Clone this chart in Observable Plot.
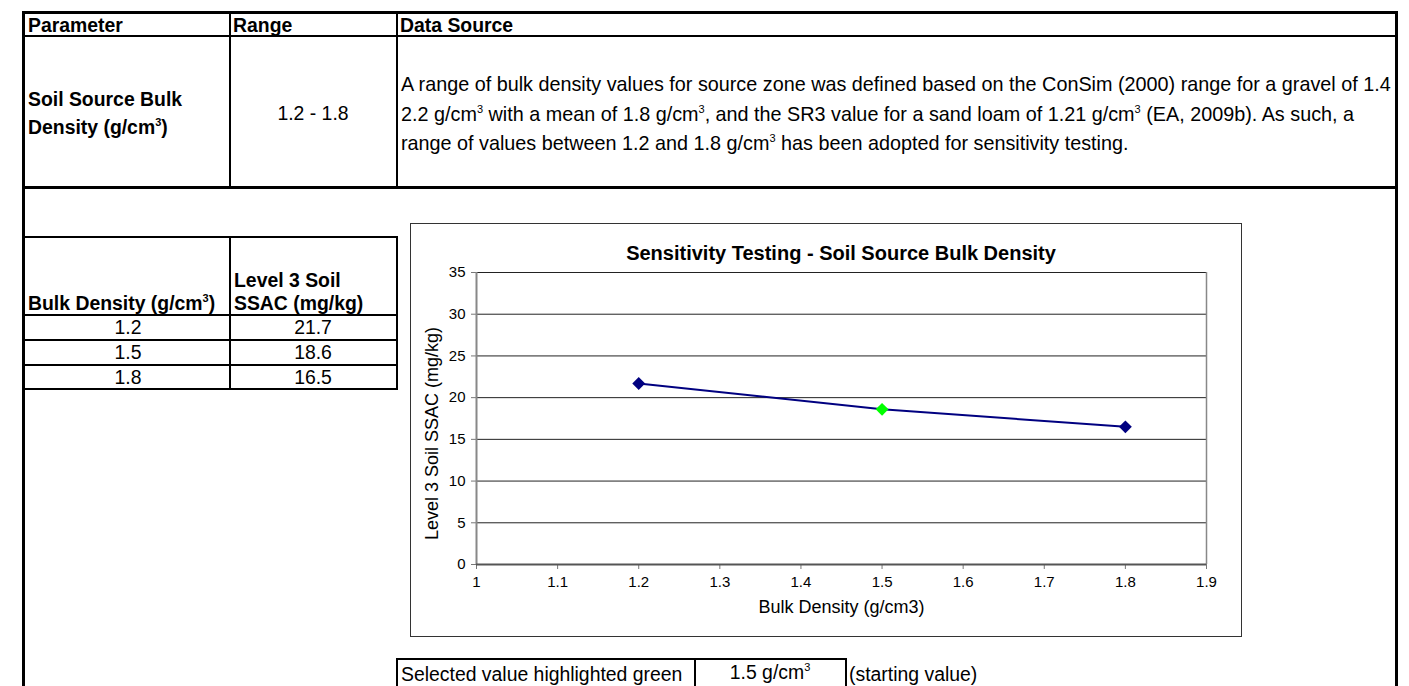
<!DOCTYPE html>
<html>
<head>
<meta charset="utf-8">
<script src="https://cdn.jsdelivr.net/npm/d3@7"></script>
<script src="https://cdn.jsdelivr.net/npm/@observablehq/plot@0.6"></script>
<style>
  html, body { margin: 0; padding: 0; background: #fff; }
  body { width: 1409px; height: 686px; overflow: hidden; position: relative;
         font-family: "Liberation Sans", Arial, sans-serif; color: #000; }
  .t { position: absolute; white-space: nowrap; line-height: 1.2; font-size: 19.4px; }
  .b { font-weight: bold; }
  .r { position: absolute; background: #000; }
  .s { font-size: 11px; position: relative; top: -8px; }
  #frame { position: absolute; left: 410px; top: 223px; width: 832px; height: 414px;
           border: 1px solid #333; box-sizing: border-box; }
  #chart { position: absolute; left: 411px; top: 262px; }
</style>
</head>
<body>
<script>
// ---- data ----
const bulkDensity = [1.2, 1.5, 1.8];
const ssac = [21.7, 18.6, 16.5];
const selectedDensity = 1.5;
const xTicks = [1, 1.1, 1.2, 1.3, 1.4, 1.5, 1.6, 1.7, 1.8, 1.9];
const yTicks = [0, 5, 10, 15, 20, 25, 30, 35];
const chartTitle = "Sensitivity Testing - Soil Source Bulk Density";
const xLabel = "Bulk Density (g/cm3)";
const yLabel = "Level 3 Soil SSAC (mg/kg)";
const tableHeaders = ["Parameter", "Range", "Data Source"];
const paramName = ["Soil Source Bulk", "Density (g/cm<span class='s'>3</span>)"];
const paramRange = "1.2 - 1.8";
const dataSourceLines = [
  "A range of bulk density values for source zone was defined based on the ConSim (2000) range for a gravel of 1.4",
  "2.2 g/cm<span class='s'>3</span> with a mean of 1.8 g/cm<span class='s'>3</span>, and the SR3 value for a sand loam of 1.21 g/cm<span class='s'>3</span> (EA, 2009b). As such, a",
  "range of values between 1.2 and 1.8 g/cm<span class='s'>3</span> has been adopted for sensitivity testing."
];
const smallHeaders = ["Bulk Density (g/cm<span class='s'>3</span>)", "Level 3 Soil", "SSAC (mg/kg)"];
const selectedText = ["Selected value highlighted green", "1.5 g/cm<span class='s'>3</span>", "(starting value)"];

// ---- helpers ----
function rect(x, y, w, h, color) {
  const d = document.createElement("div");
  d.className = "r";
  Object.assign(d.style, {left: x + "px", top: y + "px", width: w + "px", height: h + "px"});
  if (color) d.style.background = color;
  document.body.appendChild(d);
}
function text(html, x, y, opts = {}) {
  const d = document.createElement("div");
  d.className = "t" + (opts.bold ? " b" : "");
  d.innerHTML = html;
  d.style.left = x + "px";
  d.style.top = y + "px";
  d.style.transform = opts.center ? "translate(-50%,-50%)" : "translateY(-50%)";
  if (opts.size) d.style.fontSize = opts.size + "px";
  document.body.appendChild(d);
}

// ---- upper table ----
rect(22, 11, 1376, 3);          // top border
rect(22, 11, 3, 690);           // left border
rect(1395, 11, 3, 690);         // right border
rect(22, 35, 1376, 2);          // header bottom
rect(229, 11, 1.5, 177);        // column line 1
rect(396, 11, 2, 177);          // column line 2
rect(22, 186, 1376, 3);         // row bottom

text(tableHeaders[0], 28, 26, {bold: true});
text(tableHeaders[1], 233, 26, {bold: true});
text(tableHeaders[2], 400, 26, {bold: true});
text(paramName[0], 28, 100, {bold: true});
text(paramName[1], 28, 128, {bold: true});
text(paramRange, 313, 114, {center: true});
text(dataSourceLines[0], 401, 85, {size: 19.8});
text(dataSourceLines[1], 401, 115, {size: 19.8});
text(dataSourceLines[2], 401, 144, {size: 19.8});

// ---- small table ----
rect(22, 236, 376, 2);
rect(229, 236, 1.5, 153);
rect(396, 236, 1.5, 153);
[314, 339, 364, 388].forEach(y => rect(22, y, 376, 2));
text(smallHeaders[0], 28, 304, {bold: true});
text(smallHeaders[1], 234, 281, {bold: true});
text(smallHeaders[2], 234, 304, {bold: true});
bulkDensity.forEach((b, i) => {
  text(String(b), 128, 328 + i * 25, {center: true});
  text(ssac[i].toFixed(1), 313, 328 + i * 25, {center: true});
});

// ---- chart frame & title ----
const frame = document.createElement("div");
frame.id = "frame";
document.body.appendChild(frame);
text(chartTitle, 841, 253, {center: true, bold: true, size: 20});

const rows = bulkDensity.map((x, i) => ({x, y: ssac[i]}));
const chart = Plot.plot({
  width: 830,
  height: 370,
  marginTop: 10,
  marginBottom: 68,
  marginLeft: 65,
  marginRight: 35,
  x: {domain: [1, 1.9]},
  y: {domain: [0, 35]},
  style: {fontFamily: "'Liberation Sans', Arial, sans-serif", fontSize: "15px", color: "#000", background: "transparent", overflow: "visible"},
  marks: [
    Plot.ruleY(yTicks.filter(d => d > 0), {stroke: "#222", strokeWidth: 1}),
    Plot.ruleX([1.9], {stroke: "#888", strokeWidth: 1.5}),
    Plot.axisX({ticks: xTicks, tickSize: 5, tickPadding: 7, tickFormat: d => String(d), stroke: "#777", fill: "#000", label: null}),
    Plot.axisY({ticks: yTicks, tickSize: 5, tickPadding: 6, stroke: "#777", fill: "#000", label: null}),
    Plot.ruleX([1], {stroke: "#888", strokeWidth: 2}),
    Plot.ruleY([0], {stroke: "#555", strokeWidth: 2}),
    Plot.line(rows, {x: "x", y: "y", stroke: "#000080", strokeWidth: 2}),
    Plot.dot(rows, {filter: d => d.x !== selectedDensity, x: "x", y: "y", symbol: "diamond2", r: 5.8, fill: "#000080", stroke: "none"}),
    Plot.dot(rows, {filter: d => d.x === selectedDensity, x: "x", y: "y", symbol: "diamond2", r: 5.8, fill: "#00ff00", stroke: "none"}),
    Plot.text([yLabel], {frameAnchor: "left", textAnchor: "middle", rotate: -90, dx: -44, dy: 15, fontSize: 18, text: d => d}),
    Plot.text([xLabel], {frameAnchor: "bottom", dy: 48, fontSize: 18, text: d => d})
  ]
});
chart.id = "chart";
// enlarge axis tick labels (inline style wins over Plot's defaults)
d3.select(chart).selectAll("text").each(function () {
  const t = this.textContent;
  if (t !== xLabel && t !== yLabel) {
    this.style.fontSize = "15px";
    this.setAttribute("font-size", "15");
  }
});
document.body.appendChild(chart);

// ---- bottom selection table ----
rect(396, 658, 450, 1.5);
rect(396, 658, 1.5, 40);
rect(694, 658, 1.5, 40);
rect(845, 658, 1.5, 40);
text(selectedText[0], 401, 675);
text(selectedText[1], 770, 673, {center: true});
text(selectedText[2], 849, 675);
</script>
</body>
</html>
